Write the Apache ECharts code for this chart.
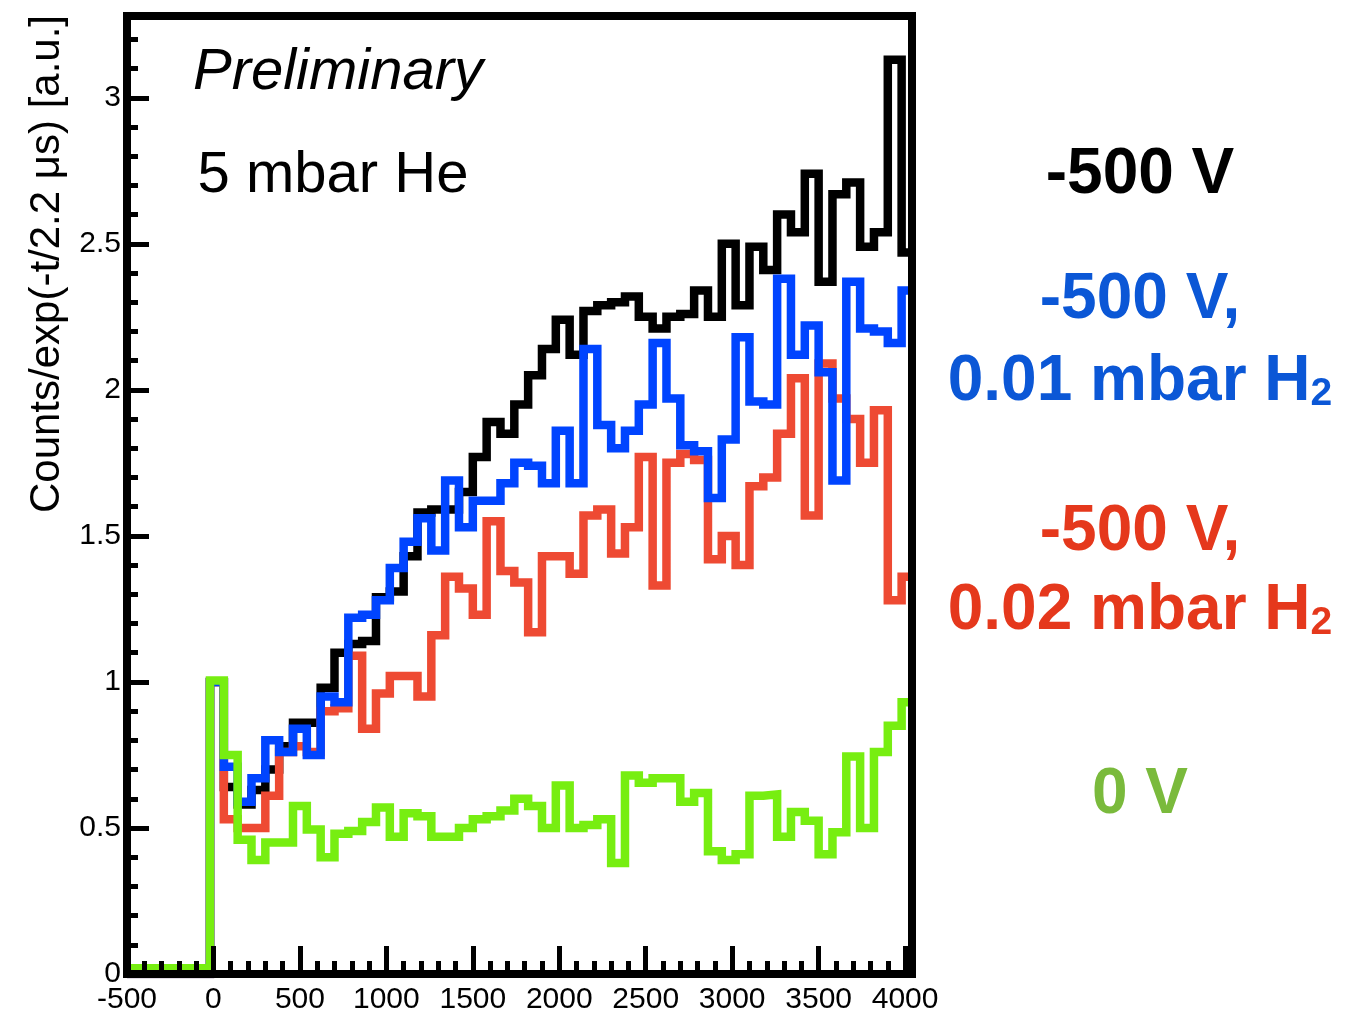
<!DOCTYPE html>
<html>
<head>
<meta charset="utf-8">
<script src="https://cdn.jsdelivr.net/npm/echarts@6/dist/echarts.min.js"></script>
<style>
  html, body { margin: 0; padding: 0; background: #fff; }
  #chart { width: 1362px; height: 1015px; }
</style>
</head>
<body>
<div id="chart"></div>
<script>
// histogram binning: bins of 80 (time units) starting at -500
const binStart = -500;
const binWidth = 80;

// -500 V, 5 mbar He
const countsPure = [
  0, 0, 0, 0, 0, 0, 1.0, 0.64, 0.58, 0.63,
  0.70, 0.78, 0.86, 0.86, 0.98, 1.10, 1.13, 1.14, 1.29, 1.31,
  1.43, 1.58, 1.59, 1.59, 1.65, 1.77, 1.89, 1.85, 1.95, 2.05,
  2.14, 2.24, 2.12, 2.27, 2.29, 2.30, 2.32, 2.25, 2.21, 2.25,
  2.26, 2.34, 2.25, 2.50, 2.29, 2.49, 2.41, 2.60, 2.54, 2.74,
  2.37, 2.67, 2.71, 2.49, 2.54, 3.13, 2.47
];
// -500 V, 0.01 mbar H2
const countsH2Low = [
  0, 0, 0, 0, 0, 0, 1.0, 0.71, 0.59, 0.67,
  0.80, 0.76, 0.84, 0.75, 0.95, 0.93, 1.22, 1.23, 1.28, 1.39,
  1.48, 1.56, 1.45, 1.69, 1.53, 1.62, 1.62, 1.68, 1.75, 1.74,
  1.68, 1.86, 1.68, 2.14, 1.88, 1.80, 1.86, 1.95, 2.16, 1.97,
  1.81, 1.79, 1.63, 1.83, 2.18, 1.96, 1.95, 2.38, 2.12, 2.22,
  2.06, 1.69, 2.37, 2.21, 2.20, 2.16, 2.34
];
// -500 V, 0.02 mbar H2
const countsH2High = [
  0, 0, 0, 0, 0, 0, 1.0, 0.53, 0.50, 0.50,
  0.61, 0.76, 0.78, 0.76, 0.90, 0.91, 1.09, 0.84, 0.96, 1.02,
  1.02, 0.95, 1.16, 1.36, 1.32, 1.23, 1.55, 1.38, 1.34, 1.17,
  1.43, 1.43, 1.37, 1.57, 1.59, 1.44, 1.53, 1.77, 1.33, 1.75,
  1.78, 1.76, 1.42, 1.50, 1.40, 1.67, 1.70, 1.85, 2.04, 1.57,
  2.09, 1.97, 1.90, 1.75, 1.93, 1.28, 1.36
];
// 0 V
const countsZeroV = [
  0.02, 0.02, 0.02, 0.02, 0.02, 0.02, 1.005, 0.75, 0.46, 0.39,
  0.45, 0.45, 0.575, 0.495, 0.40, 0.48, 0.49, 0.52, 0.57, 0.47,
  0.55, 0.54, 0.47, 0.47, 0.50, 0.53, 0.54, 0.56, 0.60, 0.575,
  0.50, 0.645, 0.50, 0.51, 0.53, 0.38, 0.68, 0.655, 0.67, 0.67,
  0.59, 0.62, 0.42, 0.39, 0.41, 0.61, 0.615, 0.47, 0.555, 0.525,
  0.41, 0.485, 0.745, 0.50, 0.76, 0.85, 0.93
];

const xMin = -500, xMax = 4040;
const yMin = 0, yMax = 3.28;

const colBlack = '#000000';
const colBlue = '#0044ff';
const colRed = '#ee4a33';
const colGreen = '#77ee11';

const txtBlue = '#0b57d6';
const txtRed = '#e5381c';
const txtGreen = '#7aba3c';

// outline of a histogram: one horizontal run per bin, steps between
function outline(values) {
  const pts = [];
  values.forEach((v, k) => {
    const lo = binStart + k * binWidth;
    pts.push([lo, v], [lo + binWidth, v]);
  });
  return pts;
}

function histSeries(name, values, color) {
  return {
    name,
    type: 'line',
    data: outline(values),
    symbol: 'none',
    silent: true,
    lineStyle: { color, width: 8.5, join: 'miter', cap: 'butt' }
  };
}

const sansFont = '"Liberation Sans", Arial, Helvetica, sans-serif';

function bigLabel(x, y, text, color) {
  return {
    type: 'text', x, y, silent: true,
    style: {
      text, fill: color, fontSize: 64, fontWeight: 'bold', fontFamily: sansFont,
      align: 'center', verticalAlign: 'middle'
    }
  };
}

function h2Label(x, y, text, color) {
  return {
    type: 'text', x, y, silent: true,
    style: {
      text: '{m|' + text + '}{s|2}',
      align: 'center', verticalAlign: 'middle',
      rich: {
        m: { fontSize: 64, fontWeight: 'bold', fontFamily: sansFont, fill: color, color, lineHeight: 70, verticalAlign: 'bottom' },
        s: { fontSize: 39, fontWeight: 'bold', fontFamily: sansFont, fill: color, color, lineHeight: 40, verticalAlign: 'bottom' }
      }
    }
  };
}

function tick(length) {
  return { show: true, inside: true, length, lineStyle: { color: '#000', width: 5 } };
}

const chart = echarts.init(document.getElementById('chart'), null, { renderer: 'canvas' });

chart.setOption({
  animation: false,
  backgroundColor: '#ffffff',
  grid: {
    left: 127, right: 450, top: 16, bottom: 40,
    show: true, z: 10,
    backgroundColor: 'transparent',
    borderColor: '#000', borderWidth: 8
  },
  xAxis: [
    {
      type: 'value', min: xMin, max: xMax, interval: 500, z: 8,
      axisLine: { show: false, onZero: false },
      splitLine: { show: false },
      axisTick: tick(28),
      axisLabel: {
        margin: 11, color: '#000', fontSize: 30, fontFamily: sansFont,
        formatter: v => (v % 500 === 0 ? String(v) : '')
      }
    },
    {
      type: 'value', min: xMin, max: xMax, interval: 100, position: 'bottom', z: 8,
      axisLine: { show: false, onZero: false },
      splitLine: { show: false },
      axisLabel: { show: false },
      axisTick: tick(13)
    }
  ],
  yAxis: [
    {
      type: 'value', min: yMin, max: yMax, interval: 0.5, z: 8, position: 'left',
      axisLine: { show: false, onZero: false },
      splitLine: { show: false },
      axisTick: tick(22),
      axisLabel: {
        margin: 6, color: '#000', fontSize: 30, fontFamily: sansFont,
        formatter: v => (Math.abs(v * 2 - Math.round(v * 2)) < 1e-6 ? String(v) : '')
      }
    },
    {
      type: 'value', min: yMin, max: yMax, interval: 0.1, position: 'left', z: 8,
      axisLine: { show: false, onZero: false },
      splitLine: { show: false },
      axisLabel: { show: false },
      axisTick: tick(11)
    }
  ],
  series: [
    histSeries('-500 V', countsPure, colBlack),
    histSeries('-500 V, 0.02 mbar H2', countsH2High, colRed),
    histSeries('-500 V, 0.01 mbar H2', countsH2Low, colBlue),
    histSeries('0 V', countsZeroV, colGreen)
  ],
  graphic: [
    {
      type: 'text', x: 47, y: 264, rotation: Math.PI / 2, silent: true,
      style: {
        text: 'Counts/exp(-t/2.2 μs) [a.u.]', fill: '#000',
        fontSize: 42, fontFamily: sansFont, align: 'center', verticalAlign: 'middle'
      }
    },
    {
      type: 'text', x: 338, y: 73, silent: true,
      style: {
        text: 'Preliminary', fill: '#000', fontSize: 58, fontStyle: 'italic',
        fontFamily: sansFont, align: 'center', verticalAlign: 'middle'
      }
    },
    {
      type: 'text', x: 333, y: 176, silent: true,
      style: {
        text: '5 mbar He', fill: '#000', fontSize: 58,
        fontFamily: sansFont, align: 'center', verticalAlign: 'middle'
      }
    },
    bigLabel(1140, 175, '-500 V', '#000'),
    bigLabel(1140, 300, '-500 V,', txtBlue),
    h2Label(1140, 379, '0.01 mbar H', txtBlue),
    bigLabel(1140, 532, '-500 V,', txtRed),
    h2Label(1140, 608, '0.02 mbar H', txtRed),
    bigLabel(1140, 795, '0 V', txtGreen)
  ]
});

window.addEventListener('resize', () => chart.resize());
</script>
</body>
</html>
